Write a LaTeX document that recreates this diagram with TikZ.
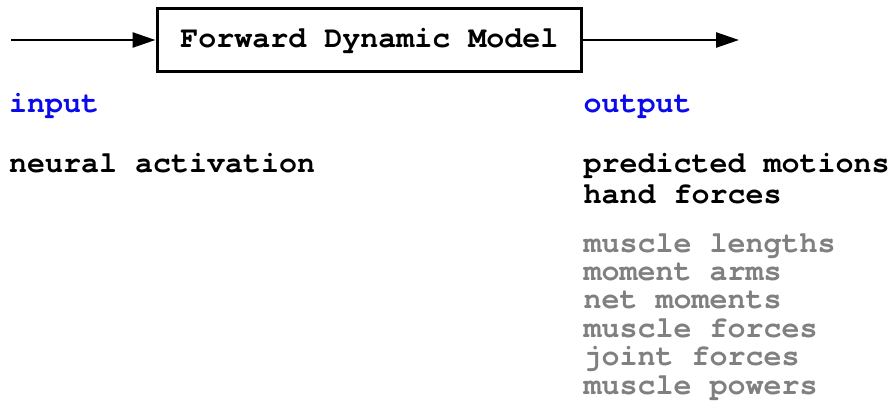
\documentclass[tikz,border=0pt]{standalone}
\usepackage{fontspec}
\setmonofont{TeX Gyre Cursor}
\usetikzlibrary{arrows.meta}
\definecolor{lblblue}{RGB}{10,10,235}
\definecolor{lblgray}{RGB}{128,128,128}
\tikzset{
  txt/.style={inner sep=0pt, anchor=base west, font=\ttfamily\bfseries\fontsize{30}{30}\selectfont},
  hdr/.style={txt, text=lblblue},
  sec/.style={txt, text=lblgray},
  arr/.style={line width=2.5pt, -{Triangle[length=23pt,width=15pt]}},
  modelbox/.style={draw, line width=3pt, minimum width=424.5pt, minimum height=63pt, inner sep=0pt,
    text height=20pt, text depth=5pt, font=\ttfamily\bfseries\fontsize{30}{30}\selectfont}
}
\begin{document}
\begin{tikzpicture}[x=1pt,y=-1pt]
\useasboundingbox (0,0) rectangle (893,407);
\node[modelbox] (box) at (369.25,39.5) {Forward Dynamic Model};
\coordinate (in) at (11,40);
\coordinate (out) at (739,40);
\draw[arr] (in) -- (in -| box.west);
\draw[arr] (box.east |- out) -- (out);
\node[hdr] (input) at (9,112) {input};
\node[hdr] (output) at (583.5,112) {output};
\node[txt] (neural) at (9,172) {neural activation};
\node[txt] (pred) at (583.5,172) {predicted motions};
\node[txt] (hand) at (583.5,203) {hand forces};
\node[sec] (ml) at (583.5,252) {muscle lengths};
\node[sec] (ma) at (583.5,280.5) {moment arms};
\node[sec] (nm) at (583.5,308.5) {net moments};
\node[sec] (mf) at (583.5,337) {muscle forces};
\node[sec] (jf) at (583.5,365.5) {joint forces};
\node[sec] (mp) at (583.5,394) {muscle powers};
\end{tikzpicture}
\end{document}
